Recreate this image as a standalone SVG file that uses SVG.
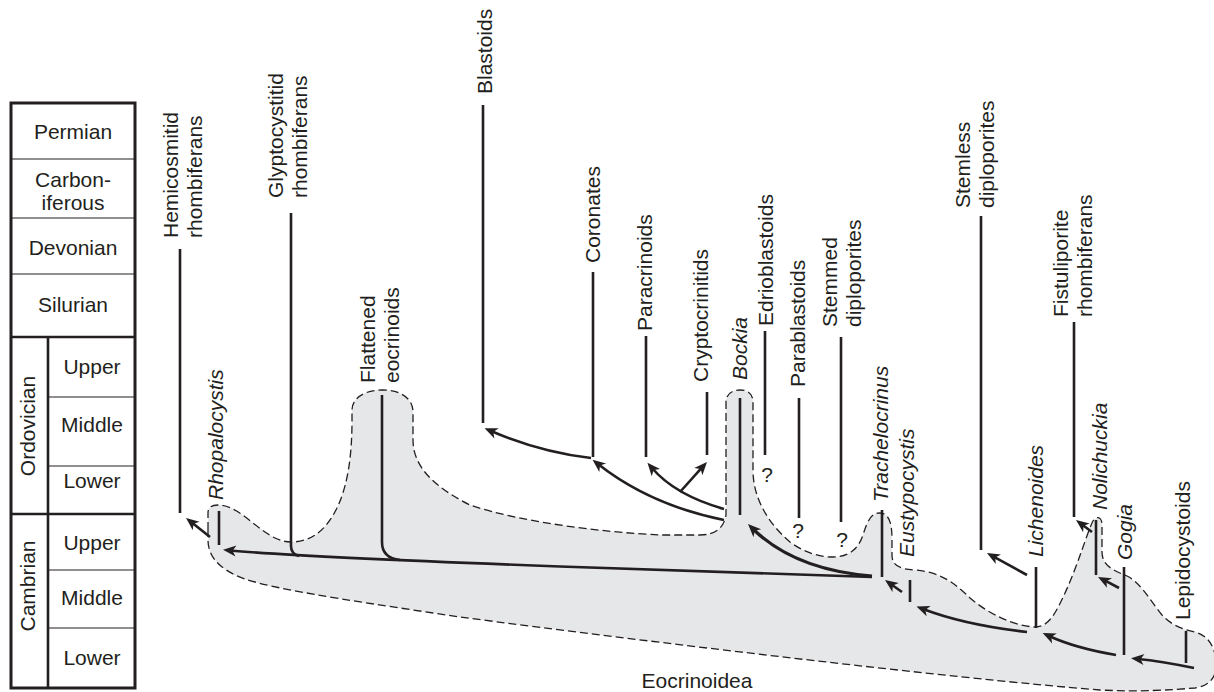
<svg xmlns="http://www.w3.org/2000/svg" width="1214" height="692" viewBox="0 0 1214 692">
  <defs>
    <style>
      text { font-family: "Liberation Sans", Arial, sans-serif; font-size: 21px; fill: #231f20; }
      .it { font-style: italic; }
      .mid { text-anchor: middle; }
      .ln { fill: none; stroke: #231f20; stroke-width: 2.6; }
      .thk { fill: none; stroke: #231f20; stroke-width: 3.2; }
      .arr { marker-end: url(#ah); }
      .rule { stroke: #231f20; stroke-width: 1.2; }
      .rule2 { stroke: #231f20; stroke-width: 2.6; }
      .blob { fill: #e6e7e8; stroke: #231f20; stroke-width: 1.3; stroke-dasharray: 8 4; }
    </style>
    <marker id="ah" viewBox="-14 -6 15 12" refX="-7" refY="0" markerWidth="15" markerHeight="12" markerUnits="userSpaceOnUse" orient="auto">
      <path d="M0,0 L-13,-5.5 L-9.5,0 L-13,5.5 Z" fill="#231f20"/>
    </marker>
  </defs>

  <!-- geological time column -->
  <g id="timescale">
    <rect x="11" y="103" width="124" height="585" fill="#fff" stroke="#231f20" stroke-width="3"/>
    <line class="rule" x1="11" y1="159" x2="135" y2="159"/>
    <line class="rule" x1="11" y1="218" x2="135" y2="218"/>
    <line class="rule" x1="11" y1="274" x2="135" y2="274"/>
    <line class="rule2" x1="11" y1="337" x2="135" y2="337"/>
    <line class="rule2" x1="11" y1="514" x2="135" y2="514"/>
    <line class="rule2" x1="48" y1="337" x2="48" y2="688"/>
    <line class="rule" x1="48" y1="397" x2="135" y2="397"/>
    <line class="rule" x1="48" y1="466" x2="135" y2="466"/>
    <line class="rule" x1="48" y1="570" x2="135" y2="570"/>
    <line class="rule" x1="48" y1="628" x2="135" y2="628"/>
    <text class="mid" x="73" y="139">Permian</text>
    <text class="mid" x="73" y="187">Carbon-</text>
    <text class="mid" x="73" y="210">iferous</text>
    <text class="mid" x="73" y="255">Devonian</text>
    <text class="mid" x="73" y="312">Silurian</text>
    <text class="mid" transform="translate(35,426) rotate(-90)">Ordovician</text>
    <text class="mid" transform="translate(35,586) rotate(-90)">Cambrian</text>
    <text class="mid" x="92" y="374">Upper</text>
    <text class="mid" x="92" y="432">Middle</text>
    <text class="mid" x="92" y="488">Lower</text>
    <text class="mid" x="92" y="550">Upper</text>
    <text class="mid" x="92" y="605">Middle</text>
    <text class="mid" x="92" y="665">Lower</text>
  </g>

  <!-- shaded Eocrinoidea grade -->
  <g id="eocrinoidea">
    <path class="blob" d="M 208 530 L 208 513 C 208 507 212 505 218 505 C 235 505 250 522 265 532 C 275 539 283 542 291 542 C 310 542 325 532 337 508 C 348 485 352 455 352 420 L 352 410 C 352 398 365 390 382 390 C 400 390 413 398 413 412 L 413 440 C 413 470 440 490 470 505 C 520 522 600 532 660 535 L 700 535 C 715 535 724 528 726 515 L 726 402 C 726 394 732 390 740 390 C 748 390 753 394 753 402 L 753 470 C 753 500 770 525 790 542 C 805 553 820 557 833 557 C 848 557 858 550 863 535 C 867 522 871 513 879 513 C 889 513 892 522 892 540 L 892 555 C 892 565 898 569 915 570 C 940 572 955 583 970 598 C 990 615 1015 626 1035 627 C 1048 627 1055 615 1065 593 C 1078 565 1088 530 1093 521 C 1096 516 1102 516 1102 525 L 1102 552 C 1102 565 1112 570 1127 576 C 1140 582 1150 600 1162 615 C 1172 626 1185 630 1195 632 C 1208 636 1214 645 1216 660 C 1218 676 1210 686 1195 688 C 1170 690 1140 692 1100 690 C 950 678 650 642 460 617 C 380 605 290 592 255 582 C 225 574 208 560 208 540 Z"/>
    <text class="mid" x="697" y="688">Eocrinoidea</text>
  </g>

  <!-- lineages -->
  <g id="hemicosmitid">
    <line class="ln" x1="180" y1="249" x2="180" y2="513"/>
    <text transform="translate(178,238) rotate(-90)">Hemicosmitid<tspan x="0" dy="24">rhombiferans</tspan></text>
  </g>
  <g id="glyptocystitid">
    <path class="ln" d="M 291 213 L 291 546 Q 291 554 299 556"/>
    <text transform="translate(283,198) rotate(-90)">Glyptocystitid<tspan x="0" dy="24">rhombiferans</tspan></text>
  </g>
  <g id="rhopalocystis">
    <line class="ln" x1="219" y1="511" x2="219" y2="545"/>
    <text class="it" transform="translate(223,500) rotate(-90)">Rhopalocystis</text>
  </g>
  <g id="flattened-eocrinoids">
    <path class="ln" d="M 382 395 L 382 542 Q 382 558 400 560"/>
    <text transform="translate(375,383) rotate(-90)">Flattened<tspan x="0" dy="24">eocrinoids</tspan></text>
  </g>
  <g id="blastoids">
    <line class="ln" x1="483" y1="105" x2="483" y2="423"/>
    <text transform="translate(492,94) rotate(-90)">Blastoids</text>
  </g>
  <g id="coronates">
    <line class="ln" x1="593" y1="272" x2="593" y2="457"/>
    <text transform="translate(600,263) rotate(-90)">Coronates</text>
  </g>
  <g id="paracrinoids">
    <line class="ln" x1="646" y1="336" x2="646" y2="457"/>
    <text transform="translate(652,331) rotate(-90)">Paracrinoids</text>
  </g>
  <g id="cryptocrinitids">
    <line class="ln" x1="707" y1="392" x2="707" y2="455"/>
    <text transform="translate(708,382) rotate(-90)">Cryptocrinitids</text>
  </g>
  <g id="bockia">
    <line class="ln" x1="740" y1="398" x2="740" y2="515"/>
    <text class="it" transform="translate(747,380) rotate(-90)">Bockia</text>
  </g>
  <g id="edrioblastoids">
    <line class="ln" x1="765" y1="331" x2="765" y2="455"/>
    <text transform="translate(773,326) rotate(-90)">Edrioblastoids</text>
    <text class="mid" x="767" y="482">?</text>
  </g>
  <g id="parablastoids">
    <line class="ln" x1="799" y1="398" x2="799" y2="518"/>
    <text transform="translate(805,387) rotate(-90)">Parablastoids</text>
    <text class="mid" x="798" y="538">?</text>
  </g>
  <g id="stemmed-diploporites">
    <line class="ln" x1="841" y1="337" x2="841" y2="522"/>
    <text transform="translate(837,327) rotate(-90)">Stemmed<tspan x="0" dy="24">diploporites</tspan></text>
    <text class="mid" x="842" y="547">?</text>
  </g>
  <g id="trachelocrinus">
    <line class="ln" x1="882" y1="510" x2="882" y2="577"/>
    <text class="it" transform="translate(888,502) rotate(-90)">Trachelocrinus</text>
  </g>
  <g id="eustypocystis">
    <line class="ln" x1="910" y1="580" x2="910" y2="602"/>
    <text class="it" transform="translate(914,557) rotate(-90)">Eustypocystis</text>
  </g>
  <g id="stemless-diploporites">
    <line class="ln" x1="981" y1="216" x2="981" y2="550"/>
    <text transform="translate(970,208) rotate(-90)">Stemless<tspan x="0" dy="24">diploporites</tspan></text>
  </g>
  <g id="lichenoides">
    <line class="ln" x1="1036" y1="567" x2="1036" y2="628"/>
    <text class="it" transform="translate(1043,557) rotate(-90)">Lichenoides</text>
  </g>
  <g id="fistuliporite">
    <line class="ln" x1="1074" y1="322" x2="1074" y2="517"/>
    <text transform="translate(1068,317) rotate(-90)">Fistuliporite<tspan x="0" dy="24">rhombiferans</tspan></text>
  </g>
  <g id="nolichuckia">
    <line class="ln" x1="1096" y1="520" x2="1096" y2="575"/>
    <text class="it" transform="translate(1107,510) rotate(-90)">Nolichuckia</text>
  </g>
  <g id="gogia">
    <line class="ln" x1="1124" y1="567" x2="1124" y2="655"/>
    <text class="it" transform="translate(1132,560) rotate(-90)">Gogia</text>
  </g>
  <g id="lepidocystoids">
    <line class="ln" x1="1186" y1="631" x2="1186" y2="663"/>
    <text transform="translate(1190,620) rotate(-90)">Lepidocystoids</text>
  </g>

  <!-- connectors -->
  <g id="connectors">
    <path class="ln arr" d="M 210 537 L 191.5 522.3"/>
    <path class="ln arr" d="M 872 577 L 560 566.5 Q 300 557 230 550.5"/>
    <path class="ln arr" d="M 591 458 Q 540 452 491 431"/>
    <path class="ln arr" d="M 724 520 Q 650 505 598 464"/>
    <path class="ln arr" d="M 724 509 Q 675 495 652 468"/>
    <path class="ln arr" d="M 680 492 L 702.3 467.2"/>
    <path class="thk arr" d="M 872 576 Q 795 570 753 529"/>
    <path class="ln arr" d="M 902 592 L 890.7 584"/>
    <path class="ln arr" d="M 1027 632 Q 965 625 923 609"/>
    <path class="ln arr" d="M 1027 575 L 993.1 556.4"/>
    <path class="ln arr" d="M 1116 655 Q 1075 648 1049 636"/>
    <path class="ln arr" d="M 1092 532 L 1081.6 524.2"/>
    <path class="ln arr" d="M 1119 588 L 1104.2 580.2"/>
    <path class="ln arr" d="M 1194 668 Q 1160 661 1138 659"/>
  </g>
</svg>
